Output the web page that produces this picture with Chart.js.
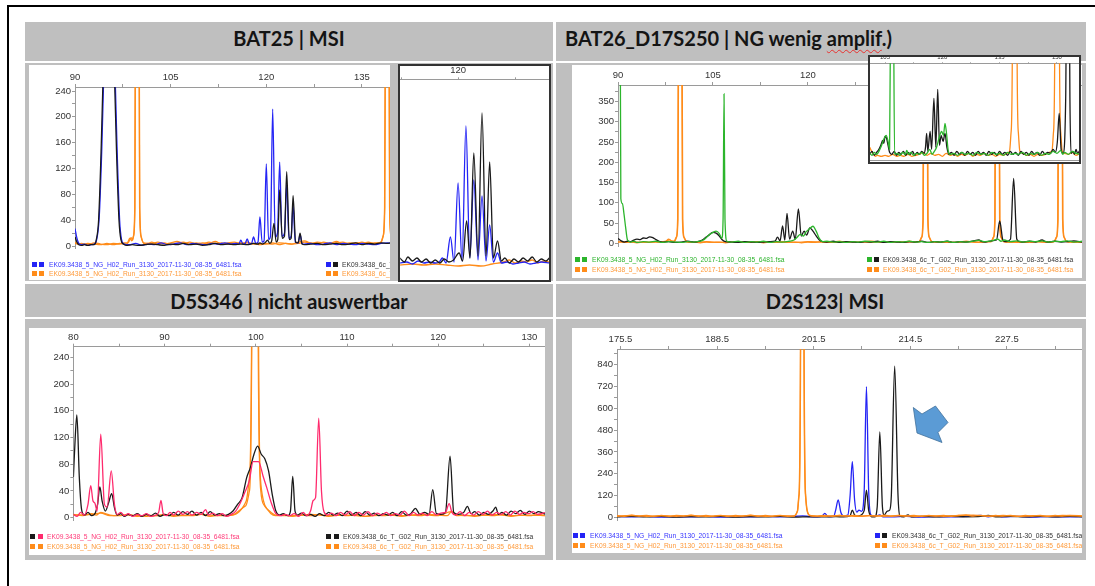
<!DOCTYPE html>
<html>
<head>
<meta charset="utf-8">
<script src="https://cdn.jsdelivr.net/npm/chart.js@4.4.1/dist/chart.umd.min.js"></script>
<style>
  body { margin: 0; width: 1095px; height: 586px; position: relative; overflow: hidden; background: #fff; font-family: 'Liberation Sans', Arial, sans-serif; }
  .abs { position: absolute; }
  .gray { position: absolute; background: #bfbfbf; }
  .title { position: absolute; font-family: Lato, sans-serif; font-weight: bold; font-size: 20px; line-height: 20px; color: #141414; white-space: nowrap; }
  .box { position: absolute; background: #fff; overflow: hidden; }
  .box canvas { position: absolute; left: 0; top: 0; }
  .inset { position: absolute; background: #fff; border: 2px solid #333; box-sizing: border-box; overflow: hidden; }
  .inset canvas { position: absolute; left: 0; top: 0; }
  .sq { position: absolute; width: 5px; height: 5px; }
  .lt { position: absolute; font-size: 6.7px; line-height: 8px; white-space: nowrap; }
  .wavy { text-decoration: underline wavy #e8312f; text-decoration-thickness: 1px; text-underline-offset: 3px; text-decoration-skip-ink: none; }
</style>
</head>
<body>
  <!-- slide frame -->
  <div class="abs" style="left:7px;top:5px;width:1088px;height:2px;background:#000"></div>
  <div class="abs" style="left:7px;top:5px;width:2px;height:581px;background:#000"></div>

  <!-- table cells -->
  <div class="gray" style="left:25px;top:22px;width:528px;height:39px"></div>
  <div class="gray" style="left:556px;top:22px;width:530px;height:39px"></div>
  <div class="gray" style="left:25px;top:63px;width:528px;height:218px"></div>
  <div class="gray" style="left:556px;top:63px;width:530px;height:218px"></div>
  <div class="gray" style="left:25px;top:284px;width:528px;height:33px"></div>
  <div class="gray" style="left:556px;top:284px;width:530px;height:33px"></div>
  <div class="gray" style="left:25px;top:319px;width:528px;height:241px"></div>
  <div class="gray" style="left:556px;top:319px;width:530px;height:241px"></div>

  <div class="title" style="left:25px;width:528px;text-align:center;top:27.8px">BAT25 | MSI</div>
  <div class="title" style="left:565px;top:27.8px">BAT26_D17S250 | NG wenig <span class="wavy">amplif</span>.)</div>
  <div class="title" style="left:25px;width:528px;text-align:center;top:290.8px">D5S346 | nicht auswertbar</div>
  <div class="title" style="left:556px;width:538px;text-align:center;top:290.8px">D2S123| MSI</div>

  <!-- BAT25 -->
  <div class="box" style="left:29px;top:65px;width:361px;height:215px">
    <canvas id="bat25" width="361" height="215"></canvas>
    <div class="sq" style="left:3px;top:197px;background:#2424f5"></div>
    <div class="sq" style="left:10px;top:197px;background:#2424f5"></div>
    <div class="lt" style="left:20px;top:196px;color:#3535ff">EK09.3438_5_NG_H02_Run_3130_2017-11-30_08-35_6481.fsa</div>
    <div class="sq" style="left:3px;top:206px;background:#ff8c1a"></div>
    <div class="sq" style="left:10px;top:206px;background:#ff8c1a"></div>
    <div class="lt" style="left:20px;top:205px;color:#ff9a3a">EK09.3438_5_NG_H02_Run_3130_2017-11-30_08-35_6481.fsa</div>
    <div class="sq" style="left:297px;top:197px;background:#2424f5"></div>
    <div class="sq" style="left:304px;top:197px;background:#1a1a1a"></div>
    <div class="lt" style="left:313px;top:196px;color:#333">EK09.3438_6c_T_G02_Run_3130_2017-11-30_08-35_6481.fsa</div>
    <div class="sq" style="left:297px;top:206px;background:#ff8c1a"></div>
    <div class="sq" style="left:304px;top:206px;background:#ff8c1a"></div>
    <div class="lt" style="left:313px;top:205px;color:#ff9a3a">EK09.3438_6c_T_G02_Run_3130_2017-11-30_08-35_6481.fsa</div>
  </div>
  <div class="inset" style="left:398px;top:64px;width:153px;height:218px">
    <canvas id="bat25zoom" width="149" height="214"></canvas>
  </div>

  <!-- BAT26 -->
  <div class="box" style="left:572px;top:65px;width:510px;height:213px">
    <canvas id="bat26" width="510" height="213"></canvas>
    <div class="sq" style="left:3px;top:192px;background:#2cb52c"></div>
    <div class="sq" style="left:10px;top:192px;background:#2cb52c"></div>
    <div class="lt" style="left:20px;top:191px;color:#2db42d">EK09.3438_5_NG_H02_Run_3130_2017-11-30_08-35_6481.fsa</div>
    <div class="sq" style="left:3px;top:202px;background:#ff8c1a"></div>
    <div class="sq" style="left:10px;top:202px;background:#ff8c1a"></div>
    <div class="lt" style="left:20px;top:201px;color:#ff9a3a">EK09.3438_5_NG_H02_Run_3130_2017-11-30_08-35_6481.fsa</div>
    <div class="sq" style="left:295px;top:192px;background:#2cb52c"></div>
    <div class="sq" style="left:302px;top:192px;background:#1a1a1a"></div>
    <div class="lt" style="left:311px;top:191px;color:#333">EK09.3438_6c_T_G02_Run_3130_2017-11-30_08-35_6481.fsa</div>
    <div class="sq" style="left:295px;top:202px;background:#ff8c1a"></div>
    <div class="sq" style="left:302px;top:202px;background:#ff8c1a"></div>
    <div class="lt" style="left:311px;top:201px;color:#ff9a3a">EK09.3438_6c_T_G02_Run_3130_2017-11-30_08-35_6481.fsa</div>
  </div>
  <div class="inset" style="left:868px;top:55px;width:213px;height:109px">
    <canvas id="bat26zoom" width="209" height="105"></canvas>
    <div class="abs" style="left:0;top:103px;width:209px;height:1px;background:#999"></div>
  </div>

  <!-- D5S346 -->
  <div class="box" style="left:29px;top:328px;width:516px;height:227px">
    <canvas id="d5" width="516" height="227"></canvas>
    <div class="sq" style="left:1px;top:206px;background:#1a1a1a"></div>
    <div class="sq" style="left:9px;top:206px;background:#ff2a6d"></div>
    <div class="lt" style="left:18px;top:205px;color:#ff3a78">EK09.3438_5_NG_H02_Run_3130_2017-11-30_08-35_6481.fsa</div>
    <div class="sq" style="left:1px;top:216px;background:#ff8c1a"></div>
    <div class="sq" style="left:9px;top:216px;background:#ff8c1a"></div>
    <div class="lt" style="left:18px;top:215px;color:#ff9a3a">EK09.3438_5_NG_H02_Run_3130_2017-11-30_08-35_6481.fsa</div>
    <div class="sq" style="left:297px;top:206px;background:#1a1a1a"></div>
    <div class="sq" style="left:305px;top:206px;background:#1a1a1a"></div>
    <div class="lt" style="left:314px;top:205px;color:#333">EK09.3438_6c_T_G02_Run_3130_2017-11-30_08-35_6481.fsa</div>
    <div class="sq" style="left:297px;top:216px;background:#ff8c1a"></div>
    <div class="sq" style="left:305px;top:216px;background:#ff8c1a"></div>
    <div class="lt" style="left:314px;top:215px;color:#ff9a3a">EK09.3438_6c_T_G02_Run_3130_2017-11-30_08-35_6481.fsa</div>
  </div>

  <!-- D2S123 -->
  <div class="box" style="left:572px;top:328px;width:510px;height:225px">
    <canvas id="d2" width="510" height="225"></canvas>
    <div class="sq" style="left:1px;top:205px;background:#2424f5"></div>
    <div class="sq" style="left:8px;top:205px;background:#2424f5"></div>
    <div class="lt" style="left:18px;top:204px;color:#3535ff">EK09.3438_5_NG_H02_Run_3130_2017-11-30_08-35_6481.fsa</div>
    <div class="sq" style="left:1px;top:215px;background:#ff8c1a"></div>
    <div class="sq" style="left:8px;top:215px;background:#ff8c1a"></div>
    <div class="lt" style="left:18px;top:214px;color:#ff9a3a">EK09.3438_5_NG_H02_Run_3130_2017-11-30_08-35_6481.fsa</div>
    <div class="sq" style="left:303px;top:205px;background:#2424f5"></div>
    <div class="sq" style="left:310px;top:205px;background:#1a1a1a"></div>
    <div class="lt" style="left:320px;top:204px;color:#333">EK09.3438_6c_T_G02_Run_3130_2017-11-30_08-35_6481.fsa</div>
    <div class="sq" style="left:303px;top:215px;background:#ff8c1a"></div>
    <div class="sq" style="left:310px;top:215px;background:#ff8c1a"></div>
    <div class="lt" style="left:320px;top:214px;color:#ff9a3a">EK09.3438_6c_T_G02_Run_3130_2017-11-30_08-35_6481.fsa</div>
  </div>

  <!-- block arrow pointing down-left at the shifted peaks -->
  <svg class="abs" style="left:0;top:0" width="1095" height="586">
    <polygon points="913.3,407.5 922,414 935.5,406 948,422.5 938,432.5 942,442.5 917,433" fill="#5b9bd5" stroke="#41719c" stroke-width="0.8"/>
  </svg>

<script>
  const colors = {
    blue: '#2424f5',
    black: '#1a1a1a',
    orange: '#ff8c1a',
    green: '#2cb52c',
    pink: '#ff2a6d'
  };

  // BAT25 (main view) - [size, height]
  const bat25Blue = [[90,27],[90.3,12],[90.6,4],[91,2],[91.5,3],[92,1],[92.5,2],[93,3],[93.4,10],[93.8,45],[94.2,150],[94.5,260],[95.4,700],[96.3,260],[96.6,150],[97,40],[97.3,10],[97.7,3],[98.5,2],[99.5,4],[100.5,1],[101.5,3],[102.5,2],[103.5,5],[104.5,2],[105.5,3],[106.5,5],[107.5,2],[108.5,4],[109.5,3],[110.5,2],[111.5,4],[112.5,3],[113.5,5],[114.5,3],[115.3,4],[115.7,3],[116,9],[116.35,3],[116.7,4],[117,11],[117.35,3],[117.7,4],[118,14],[118.35,4],[118.7,6],[119,45],[119.35,6],[119.65,8],[120,127],[120.35,10],[120.65,15],[121,212],[121.4,14],[121.75,20],[122.1,130],[122.45,15],[122.85,20],[123.2,95],[123.55,12],[123.9,15],[124.2,63],[124.55,6],[125,5],[125.3,18],[125.6,4],[126,3],[127,4],[128,2],[129,3],[130,5],[131,2],[132,4],[133,3],[134,2],[135,4],[136,3],[137,2],[138,4],[139,5],[139.4,4]];
  const bat25Black = [[90,14],[90.3,6],[90.6,2],[91,1],[91.5,2],[92,1],[92.5,2],[93,2],[93.3,8],[93.7,40],[94.1,150],[94.4,260],[95.3,700],[96.2,260],[96.5,150],[96.9,40],[97.2,10],[97.6,3],[98,1],[99,2],[100,1],[101,2],[102,3],[103,2],[104,1],[105,3],[106,2],[107,4],[108,2],[109,3],[110,1],[111,2],[112,4],[113,2],[114,3],[115,2],[116,3],[117,2],[118,4],[118.7,3],[119,5],[119.4,3],[119.8,5],[120.2,9],[120.55,4],[120.85,8],[121.2,35],[121.55,6],[121.8,10],[122.1,87],[122.5,12],[122.85,15],[123.2,115],[123.6,10],[123.9,12],[124.2,78],[124.6,6],[125,5],[125.3,20],[125.6,3],[126,2],[127,3],[128,4],[129,2],[130,3],[131,4],[132,2],[133,3],[134,5],[135,2],[136,4],[137,3],[138,5],[139,4],[139.4,5]];
  const bat25Orange1 = [[90,6],[90.5,3],[91,4],[92,2],[93,5],[94,3],[95,2],[96,4],[97,3],[97.7,5],[98.2,5],[98.6,12],[98.9,8],[99.15,15],[99.37,60],[99.45,300],[99.75,3000],[100.05,300],[100.13,60],[100.35,15],[100.75,5],[101.5,4],[102,4],[103,6],[104,3],[105,5],[106,7],[107,4],[108,6],[109,3],[110,5],[111,4],[112,7],[113,3],[114,5],[115,6],[116,4],[117,6],[118,3],[119,4],[120,3],[121,5],[122,2],[123,4],[124,3],[125,6],[126,8],[127,4],[128,6],[129,5],[130,4],[131,7],[132,3],[133,5],[134,4],[135,6],[136,3],[137,5],[137.9,5],[138.3,15],[138.55,60],[138.65,300],[138.95,3000],[139.25,300],[139.33,60],[139.55,15]];
  const bat25Orange2 = [[90,4],[91,2],[92,4],[93,3],[94,2],[95,4],[96,2],[97,4],[98,3],[98.4,6],[98.8,13],[99.05,9],[99.2,16],[99.4,60],[99.48,300],[99.78,3000],[100.08,300],[100.16,60],[100.4,14],[100.8,4],[101.5,4],[102,6],[103,3],[104,5],[105,2],[106,4],[107,6],[108,3],[109,5],[110,3],[111,6],[112,4],[113,5],[114,3],[115,4],[116,5],[117,3],[118,4],[119,2],[120,4],[121,3],[122,5],[123,4],[124,3],[125,4],[126,6],[127,5],[128,3],[129,6],[130,4],[131,5],[132,6],[133,3],[134,5],[135,4],[136,6],[137,4],[138,6],[138.35,16],[138.58,60],[138.68,300],[138.98,3000],[139.28,300],[139.36,60],[139.6,15]];
  const bat25XTicks = [90, 97.5, 105, 112.5, 120, 127.5, 135];
  const bat25XLabels = [90, 105, 120, 135];
  const bat25YTicks = [0, 20, 40, 60, 80, 100, 120, 140, 160, 180, 200, 220, 240];
  const bat25YLabels = [0, 40, 80, 120, 160, 200, 240];

  // BAT25 (zoomed view)
  const bat25ZoomBlue = [[114.9,3],[115.5,4],[116,2],[116.5,5],[117,3],[117.5,4],[118,3],[118.35,4],[118.63,8],[118.95,3],[119.33,29],[119.65,4],[120,83],[120.35,5],[120.69,140],[121.03,8],[121.38,86],[121.75,6],[122.1,70],[122.45,5],[122.77,41],[123.1,4],[123.46,13],[123.8,3],[124.3,4],[124.8,2],[125.3,3],[125.8,4],[126.3,2],[126.8,3],[127.3,4],[128,3]];
  const bat25ZoomBlack = [[114.9,8],[115.3,4],[115.6,9],[116,5],[116.4,8],[116.8,4],[117.2,7],[117.6,3],[118,6],[118.4,3],[118.8,7],[119.2,4],[119.6,6],[120.09,13],[120.4,5],[120.75,45],[121.05,8],[121.38,113],[121.75,10],[122.1,153],[122.45,10],[122.77,104],[123.1,8],[123.46,25],[123.8,5],[124.1,8],[124.5,3],[124.9,7],[125.3,4],[125.7,8],[126.1,5],[126.5,9],[126.9,4],[127.3,7],[127.7,5],[128,8]];
  const bat25ZoomOrange = [[114.9,1],[116,2],[117,1],[118,2],[119,1],[120,0],[121,1],[122,0],[123,2],[124,4],[124.5,6],[125,3],[125.5,5],[126,4],[126.5,6],[127,3],[127.5,5],[128,4]];
  const bat25ZoomXTicks = [115, 120, 125];
  const bat25ZoomXLabels = [120];

  // BAT26_D17S250 (main view)
  const bat26Green = [[90,2000],[90.3,800],[90.45,110],[90.7,98],[90.95,72],[91.2,40],[91.5,8],[92,3],[92.5,5],[93,2],[94,4],[95,3],[96,5],[97,2],[98,4],[99,3],[100,2],[101,4],[102,3],[103,5],[103.5,8],[104,15],[104.5,22],[105,27],[105.5,30],[106,24],[106.4,12],[106.6,60],[106.75,369],[106.9,60],[107.2,5],[108,3],[109,5],[110,2],[111,4],[112,3],[113,5],[114,2],[115,4],[116,3],[117,5],[117.8,8],[118.3,15],[118.8,22],[119.3,18],[119.7,28],[120.2,35],[120.8,42],[121.3,30],[121.8,12],[122.3,4],[123,5],[124,3],[125,4],[126,2],[127,4],[128,3],[129,5],[130,4],[131,3],[132,5],[133,2],[134,4],[135,3],[136,5],[137,3],[138,4],[139,2],[140,4],[141,3],[142,5],[143,2],[144,4],[145,3],[146,5],[147,7],[148,4],[149,6],[150,10],[150.5,5],[151,8],[152,4],[153,6],[154,3],[155,5],[156,4],[157,6],[158,3],[159,5],[160,4],[161,6],[162,3],[163.3,5]];
  const bat26Black = [[90,12],[90.5,6],[91,3],[91.5,5],[92,4],[92.5,8],[93,10],[93.5,9],[94,13],[94.5,12],[95,16],[95.5,14],[96,9],[96.5,5],[97,3],[98,4],[99,2],[100,3],[101,5],[102,3],[103,6],[103.5,10],[104,16],[104.5,22],[105,27],[105.5,25],[106,18],[106.5,8],[107,4],[108,3],[109,2],[110,4],[111,3],[112,2],[113,3],[114,4],[114.8,5],[115.2,15],[115.6,6],[116,43],[116.35,8],[116.7,74],[117.1,10],[117.6,30],[118,10],[118.5,85],[118.95,18],[119.4,30],[119.8,20],[120.3,38],[120.8,30],[121.3,18],[121.8,8],[122.3,4],[123,3],[124,5],[125,2],[126,4],[127,3],[128,2],[129,4],[130,3],[131,5],[132,2],[133,4],[134,3],[135,2],[136,4],[137,3],[138,5],[139,2],[140,4],[141,3],[142,5],[143,2],[144,4],[145,3],[146,5],[147,8],[147.5,4],[148,3],[149,6],[149.8,8],[150.3,55],[150.8,8],[151.3,4],[152,10],[152.5,160],[153,10],[153.5,4],[154,3],[155,5],[156,3],[157,8],[157.5,4],[158,3],[159,5],[160,3],[161,4],[162,6],[163.3,3]];
  const bat26Orange1 = [[90,4],[91,2],[92,3],[93,1],[94,3],[95,2],[96,4],[97,2],[97.6,5],[98,10],[98.4,6],[98.8,4],[99.2,15],[99.42,60],[99.5,400],[99.8,3000],[100.1,400],[100.18,60],[100.4,15],[100.8,4],[101.5,2],[102,3],[103,1],[104,3],[105,2],[106,3],[107,1],[108,3],[109,2],[110,4],[111,2],[112,3],[113,1],[114,3],[115,2],[116,4],[117,2],[118,3],[119,1],[120,3],[121,2],[122,4],[123,2],[124,3],[125,5],[126,2],[127,4],[128,2],[129,3],[130,2],[131,4],[132,3],[133,2],[134,4],[135,2],[136,5],[137,3],[137.55,4],[137.95,15],[138.17,60],[138.25,400],[138.55,3000],[138.85,400],[138.93,60],[139.15,15],[139.55,4],[140,3],[141,2],[142,4],[143,2],[144,3],[145,5],[146,3],[147,2],[148,4],[148.9,4],[149.3,15],[149.52,60],[149.6,400],[149.9,3000],[150.2,400],[150.28,60],[150.5,15],[150.9,4],[151.5,3],[152,2],[153,4],[154,3],[155,2],[156,4],[157,3],[158,2],[158.85,4],[159.25,15],[159.47,60],[159.55,400],[159.85,3000],[160.15,400],[160.23,60],[160.45,15],[160.85,4],[161.5,3],[162,2],[163.3,4]];
  const bat26Orange2 = [[90,3],[92,4],[94,2],[96,3],[97.7,5],[98.1,9],[98.5,5],[99,6],[99.25,15],[99.47,60],[99.55,400],[99.85,3000],[100.15,400],[100.23,60],[100.45,15],[100.85,4],[102,2],[104,4],[106,2],[108,3],[110,2],[112,4],[114,2],[116,3],[118,2],[120,4],[122,3],[124,2],[126,4],[128,3],[130,5],[132,2],[134,4],[136,3],[137.6,4],[138,15],[138.22,60],[138.3,400],[138.6,3000],[138.9,400],[138.98,60],[139.2,15],[139.6,4],[141,3],[143,2],[145,4],[147,3],[148.95,4],[149.35,15],[149.57,60],[149.65,400],[149.95,3000],[150.25,400],[150.33,60],[150.55,15],[150.95,4],[152,3],[154,2],[156,4],[158,3],[158.9,4],[159.3,15],[159.52,60],[159.6,400],[159.9,3000],[160.2,400],[160.28,60],[160.5,15],[160.9,4],[162,3],[163.3,2]];
  const bat26XTicks = [90, 97.5, 105, 112.5, 120, 127.5, 135, 142.5, 150, 157.5];
  const bat26XLabels = [90, 105, 120, 135, 150];
  const bat26YTicks = [0, 25, 50, 75, 100, 125, 150, 175, 200, 225, 250, 275, 300, 325, 350, 375];
  const bat26YLabels = [0, 50, 100, 150, 200, 250, 300, 350];

  // BAT26_D17S250 (zoomed view)
  const bat26ZoomGreen = [[101,4],[101.6,2],[102.2,5],[102.8,3],[103.4,6],[103.9,10],[104.4,15],[104.9,20],[105.3,22],[105.8,16],[106.2,8],[106.45,150],[106.85,500],[107.25,150],[107.5,3],[108.2,4],[108.9,2],[109.6,5],[110.3,3],[110.7,7],[111.1,3],[111.8,5],[112.5,2],[113.2,4],[113.9,3],[114.6,5],[115.3,2],[116,4],[116.7,8],[117.3,3],[117.9,6],[118.5,10],[119.2,20],[119.8,26],[120.3,22],[120.7,34],[121.1,24],[121.5,8],[122,3],[123,4],[124,2],[125,5],[126,3],[127,4],[128,2],[129,5],[130,3],[131,4],[132,2],[133,5],[134,3],[135,4],[136,2],[137,5],[138,3],[139,4],[140,3],[141,5],[142,2],[143,4],[144,3],[145,5],[146,2],[147,4],[148,3],[149,6],[150,4],[151,7],[151.5,3],[152,5],[153,3],[154,6],[155,4],[156,3]];
  const bat26ZoomBlack = [[101,3],[101.6,6],[102.2,2],[102.8,5],[103.4,8],[103.9,12],[104.4,17],[104.7,14],[105,21],[105.4,19],[105.8,12],[106.2,5],[106.8,3],[107.4,6],[108,2],[108.6,5],[109.2,3],[109.8,6],[110.4,2],[111,5],[111.6,3],[112.2,6],[112.8,2],[113.4,5],[114,3],[114.6,6],[115.2,4],[115.6,10],[115.9,24],[116.2,6],[116.8,26],[117.2,8],[117.8,59],[118.3,10],[118.8,68],[119.25,12],[119.7,22],[120.2,16],[120.7,24],[121.2,10],[121.7,3],[122.4,5],[123.1,2],[123.8,6],[124.5,3],[125.2,5],[125.9,2],[126.6,6],[127.3,3],[128,5],[128.7,2],[129.4,6],[130.1,3],[130.8,5],[131.5,2],[132.2,6],[132.9,3],[133.6,5],[134.3,2],[135,6],[135.7,3],[136.4,5],[137.1,2],[137.8,6],[138.5,3],[139.2,5],[139.9,2],[140.6,6],[141.3,3],[142,5],[142.7,2],[143.4,6],[144.1,3],[144.8,5],[145.5,2],[146.2,6],[146.9,3],[147.6,5],[148.3,4],[149,8],[149.6,5],[150.1,15],[150.6,44],[151.1,8],[151.6,4],[152.3,60],[152.85,400],[153.4,60],[153.7,4],[154.2,6],[154.6,3],[155,8],[155.4,4],[156,7]];
  const bat26ZoomOrange = [[101,10],[101.5,6],[102,3],[102.5,1],[103,2],[104,1],[105,2],[106,1],[107,3],[108,1],[109,2],[110,1],[111,3],[112,1],[113,2],[114,3],[115,5],[116,2],[117,4],[118,2],[119,3],[120,1],[121,4],[122,2],[123,3],[124,1],[125,3],[126,2],[127,4],[128,1],[129,3],[130,2],[131,4],[132,2],[133,3],[134,1],[135,3],[136,2],[137,4],[137.6,6],[138,25],[138.35,120],[138.95,3000],[139.55,120],[139.9,25],[140.3,6],[141,4],[142,2],[143,3],[144,1],[145,3],[146,2],[147,3],[148,5],[148.7,6],[149.1,25],[149.45,120],[150.05,3000],[150.65,120],[151,25],[151.4,6],[152,4],[153,3],[154,5],[155,2],[156,4]];
  const bat26ZoomXTicks = [105, 112.5, 120, 127.5, 135, 142.5, 150];
  const bat26ZoomXLabels = [105, 120, 135, 150];

  // D5S346
  const d5Black = [[80,61],[80.2,120],[80.38,154],[80.65,60],[80.9,12],[81.2,4],[81.6,8],[82,3],[82.4,7],[82.65,20],[82.9,46],[83.15,25],[83.5,10],[83.85,22],[84.2,36],[84.5,15],[84.8,4],[85.2,6],[85.6,2],[86,5],[86.5,3],[87,6],[87.5,2],[88,5],[88.5,3],[89,7],[89.5,2],[90,5],[90.5,3],[91,8],[91.5,4],[92,9],[92.5,5],[93,10],[93.5,4],[94,8],[94.5,3],[95,9],[95.5,4],[96,6],[96.5,3],[97,5],[97.5,10],[98,20],[98.5,30],[99,60],[99.4,75],[99.8,95],[100.2,107],[100.6,95],[101,88],[101.4,70],[101.8,35],[102.2,10],[102.6,4],[103,6],[103.5,3],[103.8,10],[104.05,62],[104.3,10],[104.6,4],[105,7],[105.5,3],[106,5],[106.5,2],[107,6],[107.5,3],[108,8],[108.5,4],[109,7],[109.5,3],[110,10],[110.5,4],[111,8],[111.5,3],[112,9],[112.5,4],[113,7],[113.5,3],[114,6],[114.5,4],[115,8],[115.5,3],[116,9],[116.5,4],[117,6],[117.5,14],[118,5],[118.5,8],[119,5],[119.4,42],[119.8,6],[120.3,5],[120.8,8],[121.3,92],[121.7,8],[122.2,5],[122.8,8],[123.2,17],[123.6,6],[124,9],[124.5,4],[125,8],[125.5,5],[126,10],[126.3,16],[126.6,5],[127,8],[127.5,4],[128,10],[128.5,6],[129,11],[129.5,5],[130,10],[130.5,6],[131,9],[131.8,5]];
  const d5Pink = [[80,5],[80.4,2],[80.8,8],[81.2,4],[81.6,20],[81.9,48],[82.15,25],[82.35,22],[82.6,10],[83,125],[83.4,20],[83.7,16],[84.15,70],[84.5,20],[84.8,5],[85.2,8],[85.6,3],[86,6],[86.5,2],[87,5],[87.5,3],[88,6],[88.5,2],[89,4],[89.35,8],[89.6,26],[89.85,6],[90.2,3],[90.6,8],[91,4],[91.5,10],[92,5],[92.5,9],[93,4],[93.5,8],[94,5],[94.5,12],[94.8,4],[95.3,7],[95.8,3],[96.3,6],[96.8,2],[97.3,5],[97.8,10],[98.3,22],[98.8,38],[99.3,56],[99.7,84],[100.3,84],[100.8,62],[101.2,45],[101.7,22],[102.2,6],[102.7,3],[103.2,5],[103.7,3],[104.2,6],[104.7,2],[105.2,8],[105.6,3],[106,10],[106.3,26],[106.55,30],[106.9,149],[107.2,40],[107.5,8],[107.9,4],[108.3,7],[108.8,3],[109.3,8],[109.8,4],[110.3,9],[110.8,3],[111.3,8],[111.8,4],[112.3,9],[112.8,3],[113.3,7],[113.8,4],[114.3,8],[114.8,3],[115.3,6],[115.8,4],[116.3,10],[116.8,3],[117.3,8],[117.8,4],[118.3,7],[118.8,3],[119.3,9],[119.8,4],[120.3,7],[120.8,8],[121.2,21],[121.5,8],[121.9,4],[122.4,9],[122.9,3],[123.4,8],[123.9,4],[124.4,9],[124.9,5],[125.4,10],[125.9,4],[126.4,8],[126.9,5],[127.4,9],[127.9,4],[128.4,10],[128.9,5],[129.4,8],[129.9,6],[130.4,9],[130.9,5],[131.8,8]];
  const d5Orange1 = [[80,5],[81,3],[82,6],[82.5,4],[83,8],[83.5,6],[84,4],[85,3],[86,5],[87,2],[88,4],[89,3],[90,5],[91,2],[92,4],[93,3],[94,5],[95,2],[96,4],[97,3],[97.9,6],[98.5,14],[98.95,25],[99.3,60],[99.55,300],[99.9,5000],[100.25,300],[100.5,60],[100.85,25],[101.3,12],[101.9,4],[102.5,3],[103,5],[104,2],[105,4],[106,3],[107,5],[108,2],[109,4],[110,3],[111,5],[112,2],[113,4],[114,3],[115,5],[116,2],[117,4],[118,3],[119,5],[120,4],[121,3],[121.5,10],[122,3],[123,4],[124,2],[125,4],[126,3],[127,5],[128,2],[129,4],[130,3],[131,5],[131.8,3]];
  const d5Orange2 = [[80,4],[82,5],[83,7],[84,3],[86,4],[88,2],[90,4],[92,3],[94,5],[96,3],[97.6,5],[98.3,12],[98.9,18],[99.3,40],[99.57,300],[99.93,5000],[100.29,300],[100.55,40],[100.95,18],[101.5,10],[102.2,4],[104,3],[106,5],[108,3],[110,4],[112,2],[114,4],[116,3],[118,5],[120,3],[121.4,9],[122,4],[124,3],[126,5],[128,3],[130,4],[131.8,3]];
  const d5XTicks = [80, 85, 90, 95, 100, 105, 110, 115, 120, 125, 130];
  const d5XLabels = [80, 90, 100, 110, 120, 130];
  const d5YTicks = [0, 20, 40, 60, 80, 100, 120, 140, 160, 180, 200, 220, 240];
  const d5YLabels = [0, 40, 80, 120, 160, 200, 240];

  // D2S123
  const d2Blue = [[175,8],[177,4],[179,7],[181,3],[183,6],[185,4],[187,7],[189,3],[191,6],[193,4],[195,7],[197,5],[199,8],[200,10],[201,6],[202,5],[202.6,8],[203,24],[203.4,6],[204.2,8],[204.45,40],[204.8,97],[205.15,30],[205.5,10],[206.1,15],[206.4,120],[206.7,307],[207,100],[207.3,30],[207.6,42],[207.95,35],[208.3,150],[208.6,717],[208.9,150],[209.2,15],[209.8,8],[210.4,15],[210.8,5],[212,4],[214,7],[216,3],[218,6],[220,4],[222,8],[224,12],[225,5],[226,10],[227,4],[229,7],[231,3],[233,6],[235,4],[237.7,6]];
  const d2Black = [[175,5],[177,8],[179,4],[181,7],[183,3],[185,6],[187,4],[189,7],[191,3],[193,6],[195,4],[197,7],[199,3],[201,5],[203,4],[204.5,6],[205.5,4],[206.4,10],[206.7,42],[207,15],[207.3,8],[207.6,10],[208.3,40],[208.6,151],[208.9,40],[209.3,5],[209.7,4],[210.05,60],[210.4,470],[210.75,60],[211,15],[211.4,36],[211.7,40],[211.95,120],[212.4,830],[212.85,120],[213.1,10],[213.6,5],[214.2,15],[214.6,5],[216,7],[218,4],[220,8],[222,5],[224,7],[225,12],[226,5],[228,8],[230,4],[232,7],[234,5],[236,8],[237.7,5]];
  const d2Orange1 = [[175,12],[176,8],[177,14],[178,9],[179,13],[180,8],[181,12],[182,7],[183,13],[184,9],[185,14],[186,8],[187,12],[188,9],[189,13],[190,7],[191,12],[192,9],[193,14],[194,8],[195,12],[196,9],[197,13],[198,8],[198.9,10],[199.3,35],[199.5,120],[199.72,1000],[199.95,20000],[200.18,1000],[200.4,120],[200.6,40],[201,12],[202,9],[203,13],[204,8],[205,12],[206,9],[207,13],[208,8],[209,12],[210,9],[211,14],[212,8],[213,12],[214,9],[215,13],[216,8],[217,12],[218,9],[219,13],[220,8],[221,12],[222,15],[223,9],[224,13],[225,8],[226,12],[227,9],[228,13],[229,8],[230,12],[231,9],[232,13],[233,8],[234,12],[235,9],[236,13],[237.7,10]];
  const d2Orange2 = [[175,8],[177,12],[179,7],[181,11],[183,8],[185,12],[187,7],[189,11],[191,8],[193,12],[195,7],[197,11],[198.9,9],[199.32,35],[199.53,120],[199.75,1000],[199.98,20000],[200.21,1000],[200.43,120],[200.63,40],[201.05,11],[203,8],[205,12],[207,7],[209,11],[211,8],[213,12],[215,7],[217,11],[219,8],[221,12],[223,14],[225,9],[227,12],[229,7],[231,11],[233,8],[235,12],[237.7,9]];
  const d2XTicks = [175.5, 182, 188.5, 195, 201.5, 208, 214.5, 221, 227.5, 234];
  const d2XLabels = [175.5, 188.5, 201.5, 214.5, 227.5];
  const d2YTicks = [0, 60, 120, 180, 240, 300, 360, 420, 480, 540, 600, 660, 720, 780, 840, 900];
  const d2YLabels = [0, 120, 240, 360, 480, 600, 720, 840];

  const tickFont = { family: "'Liberation Sans', Arial, sans-serif", size: 9.5 };

  function trace(points, color) {
    return {
      data: points.map(p => ({ x: p[0], y: p[1] })),
      borderColor: color,
      borderWidth: 1.3,
      pointRadius: 0,
      fill: false,
      cubicInterpolationMode: 'monotone'
    };
  }

  function topAxis(min, max, ticks, labels, height, font, tickLength) {
    return {
      type: 'linear',
      position: 'top',
      min: min,
      max: max,
      afterBuildTicks: (scale) => { scale.ticks = ticks.map(v => ({ value: v })); },
      afterFit: (scale) => { scale.height = height; },
      ticks: {
        autoSkip: false, maxRotation: 0, minRotation: 0, padding: 1,
        color: '#333', font: font,
        callback: (v) => labels.includes(v) ? String(v) : ''
      },
      grid: { drawOnChartArea: false, tickLength: tickLength, color: '#9a9a9a' },
      border: { color: '#9a9a9a' }
    };
  }

  function leftAxis(min, max, ticks, labels, width) {
    return {
      type: 'linear',
      min: min,
      max: max,
      afterBuildTicks: (scale) => { scale.ticks = ticks.map(v => ({ value: v })); },
      afterFit: (scale) => { scale.width = width; },
      ticks: {
        autoSkip: false, padding: 1, color: '#333', font: tickFont,
        callback: (v) => labels.includes(v) ? String(v) : ''
      },
      grid: { drawOnChartArea: false, tickLength: 3, color: '#9a9a9a' },
      border: { color: '#9a9a9a' }
    };
  }

  function electropherogram(id, datasets, xAxis, yAxis, padBottom) {
    return new Chart(document.getElementById(id), {
      type: 'line',
      data: { datasets: datasets },
      options: {
        responsive: false,
        animation: false,
        events: [],
        layout: { autoPadding: false, padding: { left: 0, top: 0, right: 0, bottom: padBottom } },
        plugins: { legend: { display: false }, tooltip: { enabled: false } },
        scales: { x: xAxis, y: yAxis }
      }
    });
  }

  // first dataset is drawn on top
  electropherogram('bat25',
    [trace(bat25Black, colors.black), trace(bat25Blue, colors.blue), trace(bat25Orange1, colors.orange), trace(bat25Orange2, colors.orange)],
    topAxis(90, 139.4, bat25XTicks, bat25XLabels, 22, tickFont, 3),
    leftAxis(-4, 246.2, bat25YTicks, bat25YLabels, 46),
    31.4);

  electropherogram('bat25zoom',
    [trace(bat25ZoomBlack, colors.black), trace(bat25ZoomBlue, colors.blue), trace(bat25ZoomOrange, colors.orange)],
    topAxis(114.93, 127.97, bat25ZoomXTicks, bat25ZoomXLabels, 13.3, tickFont, 2),
    { type: 'linear', display: false, min: -14, max: 186.7 },
    0);

  electropherogram('bat26',
    [trace(bat26Green, colors.green), trace(bat26Black, colors.black), trace(bat26Orange1, colors.orange), trace(bat26Orange2, colors.orange)],
    topAxis(90, 163.3, bat26XTicks, bat26XLabels, 20, tickFont, 3),
    leftAxis(-8, 391, bat26YTicks, bat26YLabels, 46),
    31.5);

  electropherogram('bat26zoom',
    [trace(bat26ZoomGreen, colors.green), trace(bat26ZoomBlack, colors.black), trace(bat26ZoomOrange, colors.orange)],
    topAxis(101.07, 155.78, bat26ZoomXTicks, bat26ZoomXLabels, 6.3, { family: "'Liberation Sans', Arial, sans-serif", size: 6 }, 1),
    { type: 'linear', display: false, min: -2.7, max: 94 },
    2);

  electropherogram('d5',
    [trace(d5Pink, colors.pink), trace(d5Black, colors.black), trace(d5Orange1, colors.orange), trace(d5Orange2, colors.orange)],
    topAxis(80, 131.71, d5XTicks, d5XLabels, 18.7, tickFont, 3),
    leftAxis(-4, 255.9, d5YTicks, d5YLabels, 44.4),
    34.6);

  electropherogram('d2',
    [trace(d2Orange1, colors.orange), trace(d2Orange2, colors.orange), trace(d2Black, colors.black), trace(d2Blue, colors.blue)],
    topAxis(175.03, 237.61, d2XTicks, d2XLabels, 21, tickFont, 3),
    leftAxis(-14.8, 923.8, d2YTicks, d2YLabels, 45),
    32.6);
</script>
</body>
</html>
